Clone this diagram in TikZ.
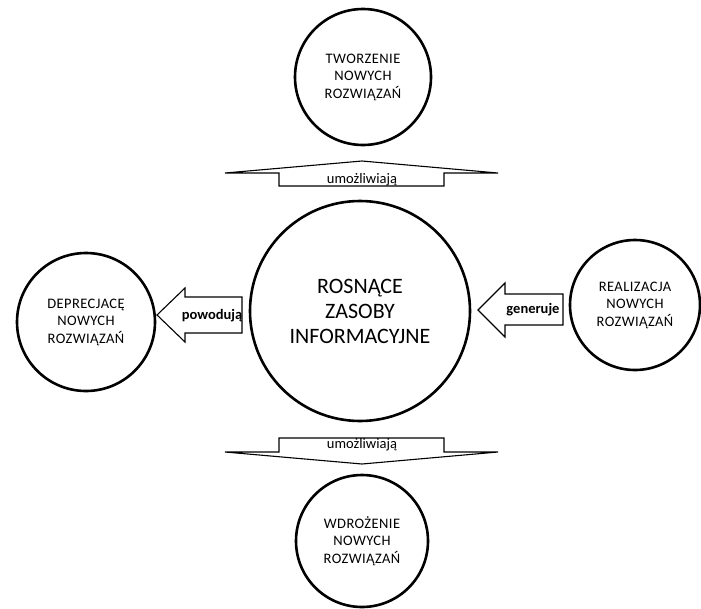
\documentclass[tikz,border=0pt]{standalone}
\usepackage{fontspec}
\setmainfont{Carlito}
\newfontfamily\spacedfont[LetterSpace=3]{Carlito}
\begin{document}
\begin{tikzpicture}[x=1pt,y=-1pt,
  circ/.style={draw, circle, line width=2.6pt, inner sep=0pt, align=center},
  smalltxt/.style={font=\spacedfont\fontsize{14.5}{17.5}\selectfont},
  bigtxt/.style={font=\fontsize{22}{25}\selectfont},
  blockarrow/.style={draw, line width=1.1pt, fill=white, line join=miter},
  lbl/.style={font=\fontsize{14.5}{16}\selectfont, inner sep=0pt}]
\useasboundingbox (0,0) rectangle (701,608);
% circles
\node[circ, bigtxt, minimum size=220pt] (C) at (360,311) {ROSNĄCE\\ZASOBY\\INFORMACYJNE};
\node[circ, smalltxt, minimum size=136pt] (T) at (363,77) {TWORZENIE\\NOWYCH\\ROZWIĄZAŃ};
\node[circ, smalltxt, minimum size=138pt] (L) at (86,322) {DEPRECJACĘ\\NOWYCH\\ROZWIĄZAŃ};
\node[circ, smalltxt, minimum size=130pt] (R) at (635,305) {REALIZACJA\\NOWYCH\\ROZWIĄZAŃ};
\node[circ, smalltxt, minimum size=132pt] (B) at (362,541) {WDROŻENIE\\NOWYCH\\ROZWIĄZAŃ};
% block arrows
\draw[blockarrow] (279,186) -- (279,173) -- (225,173) -- (362,161) -- (498,173) -- (444,173) -- (444,186) -- cycle;
\node[lbl] (up) at (362,180) {umożliwiają};
\draw[blockarrow] (279,438) -- (279,452) -- (225,452) -- (362,464) -- (498,452) -- (444,452) -- (444,438) -- cycle;
\node[lbl] (down) at (362,445) {umożliwiają};
\draw[blockarrow] (242,297) -- (185,297) -- (185,288) -- (157,315) -- (185,342) -- (185,333) -- (242,333) -- cycle;
\node[lbl, font=\fontsize{14.5}{16}\bfseries] (left) at (212,316) {powodują};
\draw[blockarrow] (563,294) -- (505,294) -- (505,283) -- (478,310) -- (505,337) -- (505,325) -- (563,325) -- cycle;
\node[lbl, font=\fontsize{14.5}{16}\bfseries] (right) at (533,310) {generuje};
\end{tikzpicture}
\end{document}
